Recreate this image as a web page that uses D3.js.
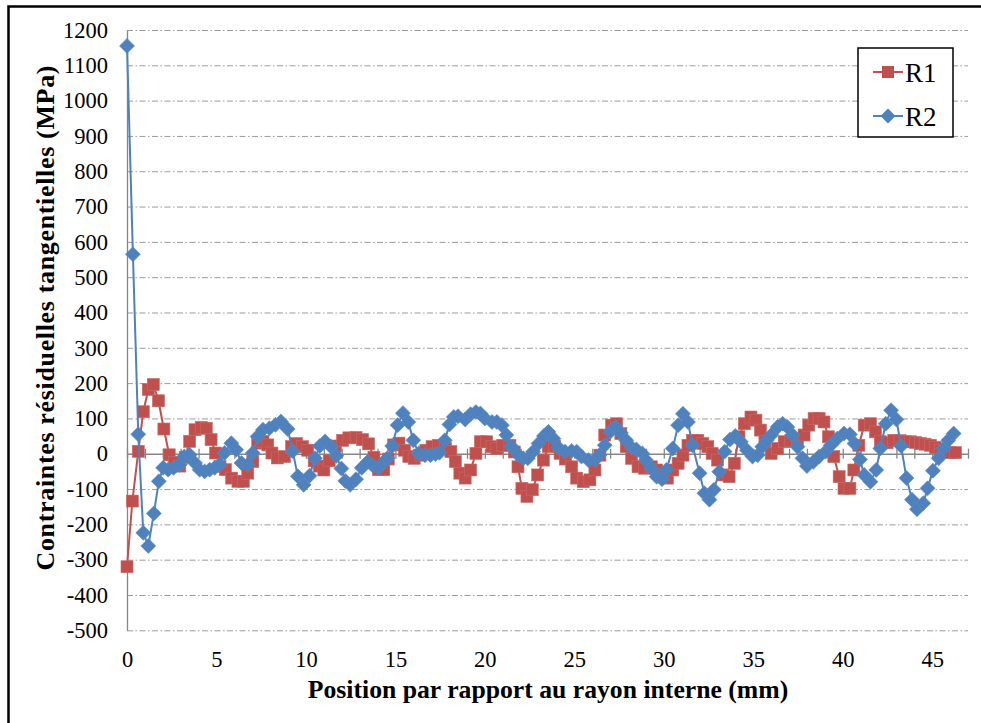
<!DOCTYPE html>
<html><head><meta charset="utf-8">
<script src="https://cdn.jsdelivr.net/npm/d3@7"></script>
<style>body{margin:0;background:#fff}svg{display:block}
svg text{font-family:"Liberation Serif","Times New Roman",Times,"DejaVu Serif",serif !important;}
</style></head>
<body><svg id="c" width="981" height="723"></svg>
<script>
// ---- data ----
const seriesNames = ["R1", "R2"];
const r1x = [0,0.3,0.63,0.91,1.19,1.47,1.76,2.06,2.36,2.65,2.95,3.25,3.5,3.8,4.15,4.43,4.7,4.95,5.2,5.5,5.85,6.2,6.5,6.75,7.03,7.3,7.6,7.87,8.1,8.4,8.8,9.2,9.47,9.8,10.1,10.46,10.75,11.0,11.3,11.65,12.05,12.4,12.8,13.16,13.5,13.8,14.05,14.35,14.6,14.9,15.2,15.5,15.75,16.05,16.4,16.7,17.05,17.4,17.8,18.1,18.35,18.6,18.9,19.2,19.5,19.75,20.1,20.4,20.67,21.0,21.4,21.65,21.85,22.07,22.35,22.65,22.95,23.27,23.55,23.9,24.2,24.5,24.85,25.13,25.5,25.87,26.15,26.43,26.7,27.08,27.36,27.6,27.9,28.2,28.56,28.93,29.3,29.6,29.95,30.2,30.5,30.8,31.07,31.35,31.6,31.9,32.18,32.46,32.7,33.0,33.3,33.65,33.94,34.2,34.5,34.87,35.15,35.4,35.65,36.0,36.36,36.73,37.1,37.47,37.84,38.1,38.4,38.68,38.95,39.2,39.5,39.8,40.07,40.4,40.62,40.9,41.2,41.55,41.83,42.1,42.48,42.85,43.2,43.5,43.78,44.06,44.34,44.6,44.9,45.17,45.45,45.7,46.0,46.3];
const r1y = [-320,-134,7,119,182,196,150,70,-3,-25,-35,-10,35,68,75,72,40,2,-36,-45,-69,-78,-78,-55,-22,30,35,25,2,-12,-8,20,29,20,10,-20,-35,-46,-20,22,38,45,46,40,28,-10,-45,-45,-15,25,30,10,-8,-13,-4,10,20,24,15,6,-22,-55,-69,-46,1,34,34,20,15,24,24,5,-37,-98,-121,-102,-60,-18,20,22,1,-15,-37,-69,-79,-74,-46,-4,53,81,85,57,20,-13,-37,-41,-37,-46,-60,-69,-46,-27,-4,24,38,38,29,20,1,-18,-60,-65,-27,48,85,104,95,67,34,1,15,34,38,38,53,81,100,100,90,48,-8,-65,-98,-98,-46,24,81,85,62,34,31,38,37,34,34,32,29,27,24,18,10,6,3,3];
const r2x = [0,0.33,0.63,0.91,1.19,1.5,1.78,2.02,2.3,2.6,2.95,3.2,3.5,3.8,4.06,4.34,4.62,4.9,5.18,5.45,5.83,6.1,6.4,6.75,7.03,7.3,7.6,7.96,8.3,8.6,8.98,9.26,9.55,9.87,10.2,10.5,10.78,11.07,11.4,11.7,11.98,12.2,12.47,12.8,13.12,13.45,13.75,14.05,14.3,14.55,14.82,15.12,15.42,15.72,16.0,16.3,16.65,16.96,17.24,17.46,17.76,18.02,18.26,18.5,18.9,19.2,19.5,19.75,20.0,20.4,20.67,20.95,21.2,21.5,21.88,22.15,22.4,22.7,23.0,23.3,23.55,23.83,24.1,24.48,24.85,25.13,25.4,25.78,26.15,26.4,26.7,27.0,27.3,27.6,27.9,28.2,28.47,28.8,29.0,29.3,29.6,29.9,30.14,30.5,30.8,31.07,31.35,31.6,32.0,32.27,32.55,32.8,33.1,33.4,33.7,34.0,34.3,34.65,34.96,35.24,35.5,35.75,36.0,36.36,36.64,36.9,37.2,37.47,37.75,38.0,38.36,38.68,39.05,39.33,39.7,40.07,40.4,40.66,40.96,41.2,41.55,41.87,42.1,42.4,42.7,43.0,43.26,43.56,43.87,44.15,44.5,44.74,45.04,45.36,45.64,45.9,46.2];
const r2y = [1155,565,55,-224,-261,-169,-78,-40,-45,-40,-31,-8,-3,-26,-45,-50,-45,-40,-31,2,30,11,-26,-31,2,49,68,72,82,91,70,7,-64,-88,-62,-13,22,35,20,-6,-42,-77,-88,-72,-40,-23,-34,-40,-25,-13,22,81,115,90,38,1,-4,-4,-1,3,38,83,104,106,97,112,118,114,100,90,90,81,53,20,-4,-13,-13,6,29,50,62,43,18,6,8,6,-8,-18,-18,-4,24,62,76,59,38,18,12,1,-18,-41,-65,-72,-46,15,81,113,90,24,-55,-112,-130,-102,-51,6,40,50,34,10,-8,-4,20,38,53,76,85,76,53,20,-13,-35,-23,-8,6,24,43,57,55,29,-16,-60,-79,-46,15,85,123,97,22,-69,-130,-157,-140,-98,-48,-13,15,38,57];
const xTickLabels = [0,5,10,15,20,25,30,35,40,45];
const xMinorTicks = [0,1,2,3,4,5,6,7,8,9,10,11,12,13,14,15,16,17,18,19,20,21,22,23,24,25,26,27,28,29,30,31,32,33,34,35,36,37,38,39,40,41,42,43,44,45,46,47];
const yTicks = [-500,-400,-300,-200,-100,0,100,200,300,400,500,600,700,800,900,1000,1100,1200];

// ---- layout ----
const svg = d3.select("#c");
const L = 127, R = 968, T = 30, B = 630.3;
const x = d3.scaleLinear().domain([0, 47]).range([L, R]);
const y = d3.scaleLinear().domain([-500, 1200]).range([B, T]);
const c1 = "#C0504D", c2 = "#4F81BD", axisCol = "#868686";
const fmt = d => String(d);

svg.append("rect").attr("x",0).attr("y",0).attr("width",981).attr("height",723).attr("fill","#fff");
// outer frame
svg.append("rect").attr("x",8.5).attr("y",6.5).attr("width",1000).attr("height",740)
  .attr("fill","none").attr("stroke","#000").attr("stroke-width",2.5);

// gridlines
const grid = svg.append("g").attr("transform",`translate(${L},0)`)
  .call(d3.axisLeft(y).tickValues(yTicks.filter(v=>v!==0)).tickSize(-(R-L)).tickFormat(""));
grid.select(".domain").remove();
grid.selectAll("line").attr("stroke","#9a9a9a").attr("stroke-width",1).attr("stroke-dasharray","6,2.5,1.5,2.5");

// y axis with labels
const ya = svg.append("g").attr("transform",`translate(${L},0)`)
  .call(d3.axisLeft(y).tickValues(yTicks).tickSize(0).tickSizeOuter(0).tickPadding(19).tickFormat(fmt));
ya.select(".domain").attr("stroke",axisCol).attr("stroke-width",1.3);
ya.selectAll("text").attr("font-size",22.5).attr("fill","#000");

// zero line with integer ticks
const za = svg.append("g").attr("transform",`translate(0,${y(0)})`)
  .call(d3.axisBottom(x).tickValues(xMinorTicks).tickSizeOuter(0).tickFormat(""));
za.select(".domain").attr("stroke",axisCol).attr("stroke-width",1.6);
za.selectAll(".tick line").attr("stroke",axisCol).attr("stroke-width",1.3).attr("y1",-5).attr("y2",5);

// x tick labels along bottom
const xa = svg.append("g").attr("transform",`translate(0,${B})`)
  .call(d3.axisBottom(x).tickValues(xTickLabels).tickSize(0).tickPadding(21).tickFormat(fmt));
xa.select(".domain").remove();
xa.selectAll("text").attr("font-size",22.5).attr("fill","#000");

// axis titles
svg.append("text").attr("x",548).attr("y",698).attr("text-anchor","middle")
  .attr("font-weight","bold").attr("font-size",25.7)
  .text("Position par rapport au rayon  interne (mm)");
svg.append("text").attr("transform","translate(54,318) rotate(-90)").attr("text-anchor","middle")
  .attr("font-weight","bold").attr("font-size",26)
  .attr("textLength",505).attr("lengthAdjust","spacing")
  .text("Contraintes  résiduelles tangentielles  (MPa)");

// series
const d1 = r1x.map((v,i)=>({x:v,y:r1y[i]}));
const d2 = r2x.map((v,i)=>({x:v,y:r2y[i]}));
const line = d3.line().x(d=>x(d.x)).y(d=>y(d.y));
const sq = 12, dm = 10.6;

svg.append("path").datum(d1).attr("d",line).attr("fill","none").attr("stroke",c1).attr("stroke-width",2);
svg.append("g").selectAll("rect").data(d1).join("rect")
  .attr("x",d=>x(d.x)-sq/2).attr("y",d=>y(d.y)-sq/2).attr("width",sq).attr("height",sq)
  .attr("fill",c1).attr("stroke","#c96a67").attr("stroke-width",0.6);

svg.append("path").datum(d2).attr("d",line).attr("fill","none").attr("stroke",c2).attr("stroke-width",2);
svg.append("g").selectAll("rect").data(d2).join("rect")
  .attr("x",-dm/2).attr("y",-dm/2).attr("width",dm).attr("height",dm)
  .attr("transform",d=>`translate(${x(d.x)},${y(d.y)}) rotate(45)`)
  .attr("fill",c2).attr("stroke","#5a8ac4").attr("stroke-width",0.6);

// legend
const lg = svg.append("g");
lg.append("rect").attr("x",858).attr("y",48).attr("width",95).attr("height",89)
  .attr("fill","#fff").attr("stroke","#000").attr("stroke-width",1.5);
const ly = [72, 116], lc = [c1, c2];
seriesNames.forEach((n,i)=>{
  lg.append("line").attr("x1",873).attr("x2",903).attr("y1",ly[i]).attr("y2",ly[i]).attr("stroke",lc[i]).attr("stroke-width",2);
  if(i===0) lg.append("rect").attr("x",888-sq/2).attr("y",ly[i]-sq/2).attr("width",sq).attr("height",sq).attr("fill",c1);
  else lg.append("rect").attr("x",-dm/2).attr("y",-dm/2).attr("width",dm).attr("height",dm)
        .attr("transform",`translate(888,${ly[i]}) rotate(45)`).attr("fill",c2);
  lg.append("text").attr("x",905).attr("y",ly[i]+10).attr("font-size",27).text(n);
});
</script></body></html>
